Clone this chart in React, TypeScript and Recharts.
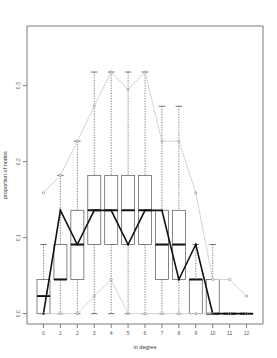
import React from 'react';
import { ComposedChart, Bar, Line, XAxis, YAxis } from 'recharts';

// in-degree distribution: boxplots over simulated networks, observed network on top
const degrees = ['0', '1', '2', '3', '4', '5', '6', '7', '8', '9', '10', '11', '12'];
const whiskerLow = [0, 0, 0, 0, 0, 0, 0, 0, 0, 0, 0, 0, 0];
const q1 = [0, 0.045, 0.045, 0.091, 0.091, 0.091, 0.091, 0.045, 0.045, 0, 0, 0, 0];
const median = [0.023, 0.045, 0.091, 0.136, 0.136, 0.136, 0.136, 0.091, 0.091, 0.045, 0, 0, 0];
const q3 = [0.045, 0.091, 0.136, 0.182, 0.182, 0.182, 0.182, 0.136, 0.136, 0.045, 0.045, 0, 0];
const whiskerHigh = [0.091, 0.182, 0.227, 0.318, 0.318, 0.318, 0.318, 0.273, 0.273, 0.091, 0.091, 0, 0];
const upperBand = [0.159, 0.182, 0.227, 0.273, 0.318, 0.295, 0.318, 0.227, 0.227, 0.159, 0.045, 0.045, 0.023];
const lowerBand = [0, 0, 0, 0.023, 0.045, 0, 0, 0, 0, 0, 0, 0, 0];
const observed = [0, 0.136, 0.091, 0.136, 0.136, 0.091, 0.136, 0.136, 0.045, 0.091, 0, 0, 0];
const yTicks = [0, 0.1, 0.2, 0.3];

const data = degrees.map((d, i) => ({
  degree: d,
  base: whiskerLow[i],
  lowWhisk: q1[i] - whiskerLow[i],
  boxLow: median[i] - q1[i],
  boxHigh: q3[i] - median[i],
  highWhisk: whiskerHigh[i] - q3[i],
  upper: upperBand[i],
  lower: lowerBand[i],
  observed: observed[i],
}));

const FRAME = '#7a7a7a';
const BOX = '#666';
const WHISK = '#666';
const FONT = '"Liberation Sans", Arial, sans-serif';

const Nothing = () => <g />;

const LowWhisker = (p: any) => {
  const { x, y, width, height } = p;
  if (!height || Math.abs(height) < 0.5) return <g />;
  const cx = x + width / 2;
  const bottom = y + height;
  return (
    <g>
      <line x1={cx} y1={y} x2={cx} y2={bottom} stroke={WHISK} strokeWidth={0.8} strokeDasharray="1.3 1.3" />
      <line x1={cx - width / 4} y1={bottom} x2={cx + width / 4} y2={bottom} stroke={WHISK} strokeWidth={0.9} />
    </g>
  );
};

const HighWhisker = (p: any) => {
  const { x, y, width, height } = p;
  if (!height || Math.abs(height) < 0.5) return <g />;
  const cx = x + width / 2;
  return (
    <g>
      <line x1={cx} y1={y} x2={cx} y2={y + height} stroke={WHISK} strokeWidth={0.8} strokeDasharray="1.3 1.3" />
      <line x1={cx - width / 4} y1={y} x2={cx + width / 4} y2={y} stroke={WHISK} strokeWidth={0.9} />
    </g>
  );
};

// lower half of the box, median drawn on its top edge
const BoxLow = (p: any) => {
  const { x, y, width, height } = p;
  return (
    <g>
      {height > 0.5 && <rect x={x} y={y} width={width} height={height} fill="none" stroke={BOX} strokeWidth={0.8} />}
      <line x1={x} y1={y} x2={x + width} y2={y} stroke="#111" strokeWidth={1.6} />
    </g>
  );
};

// upper half of the box, median drawn on its bottom edge
const BoxHigh = (p: any) => {
  const { x, y, width, height } = p;
  return (
    <g>
      {height > 0.5 && <rect x={x} y={y} width={width} height={height} fill="none" stroke={BOX} strokeWidth={0.8} />}
      <line x1={x} y1={y + height} x2={x + width} y2={y + height} stroke="#111" strokeWidth={1.6} />
    </g>
  );
};

const YTick = ({ x, y, payload }: any) => (
  <g transform={`translate(${x - 1},${y}) rotate(-90)`}>
    <text textAnchor="middle" fontSize={5} fill="#555" fontFamily={FONT}>
      {Number(payload.value).toFixed(1)}
    </text>
  </g>
);

const XLabel = ({ viewBox }: any) => (
  <text x={viewBox.x + viewBox.width / 2} y={viewBox.y + viewBox.height - 9} textAnchor="middle" fontSize={5.5} fill="#333" fontFamily={FONT}>
    in degree
  </text>
);

const YLabel = ({ viewBox }: any) => {
  const cy = viewBox.y + viewBox.height / 2;
  return (
    <g transform={`translate(7,${cy}) rotate(-90)`}>
      <text textAnchor="middle" fontSize={5.5} fill="#333" fontFamily={FONT}>
        proportion of nodes
      </text>
    </g>
  );
};

const grayDot = (p: any) => (
  <circle key={`g${p.index}-${p.cx}-${p.cy}`} cx={p.cx} cy={p.cy} r={1.1} fill="#fff" stroke="#888" strokeWidth={0.7} />
);
const blackDot = (p: any) => <circle key={`b${p.index}`} cx={p.cx} cy={p.cy} r={0.9} fill="#000" />;

export default function App() {
  return (
    <div style={{ position: 'absolute', left: 0, top: 0, background: '#fff' }}>
      <ComposedChart
        width={277}
        height={358}
        data={data}
        margin={{ top: 25, right: 13, bottom: 0, left: 0 }}
        style={{ fontFamily: FONT }}
      >
        <XAxis
          dataKey="degree"
          height={34}
          padding={{ left: 8, right: 8 }}
          axisLine={{ stroke: FRAME }}
          tickLine={{ stroke: FRAME }}
          tickSize={4}
          tickMargin={3}
          tick={{ fontSize: 5, fill: '#555' }}
          interval={0}
          label={<XLabel />}
        />
        <XAxis
          xAxisId="top"
          dataKey="degree"
          orientation="top"
          height={1}
          padding={{ left: 8, right: 8 }}
          tick={false}
          tickLine={false}
          axisLine={{ stroke: FRAME }}
        />
        <YAxis
          width={27}
          type="number"
          domain={[-0.0136, 0.3786]}
          allowDataOverflow
          ticks={yTicks}
          axisLine={{ stroke: FRAME }}
          tickLine={{ stroke: FRAME }}
          tickSize={4}
          tick={<YTick />}
          label={<YLabel />}
        />
        <YAxis
          yAxisId="right"
          orientation="right"
          width={1}
          type="number"
          domain={[0, 1]}
          tick={false}
          tickLine={false}
          axisLine={{ stroke: FRAME }}
        />

        <Bar dataKey="base" stackId="box" barSize={13} shape={Nothing} isAnimationActive={false} />
        <Bar dataKey="lowWhisk" stackId="box" barSize={13} shape={LowWhisker} isAnimationActive={false} />
        <Bar dataKey="boxLow" stackId="box" barSize={13} shape={BoxLow} isAnimationActive={false} />
        <Bar dataKey="boxHigh" stackId="box" barSize={13} shape={BoxHigh} isAnimationActive={false} />
        <Bar dataKey="highWhisk" stackId="box" barSize={13} shape={HighWhisker} isAnimationActive={false} />

        <Line dataKey="upper" stroke="#cfcfcf" strokeWidth={0.9} dot={grayDot} isAnimationActive={false} />
        <Line dataKey="lower" stroke="#cfcfcf" strokeWidth={0.9} dot={grayDot} isAnimationActive={false} />
        <Line dataKey="observed" stroke="#111" strokeWidth={1.6} dot={blackDot} isAnimationActive={false} />
      </ComposedChart>
    </div>
  );
}
